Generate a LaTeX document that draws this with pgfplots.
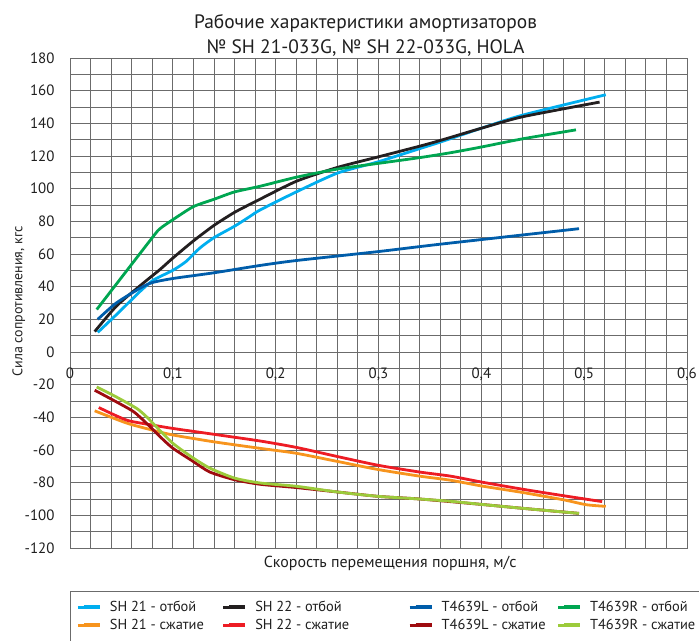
\documentclass[border=0pt]{standalone}
\usepackage{fontspec}
\setmainfont{PT Sans}
\usepackage{pgfplots}
\pgfplotsset{compat=1.18}
\definecolor{csho}{RGB}{0,174,239}
\definecolor{cshto}{RGB}{35,31,32}
\definecolor{clo}{RGB}{0,93,170}
\definecolor{cro}{RGB}{0,166,81}
\definecolor{cshc}{RGB}{247,148,29}
\definecolor{csht}{RGB}{237,28,36}
\definecolor{clc}{RGB}{158,11,15}
\definecolor{crc}{RGB}{156,203,59}
\begin{document}
\begin{tikzpicture}
\begin{axis}[
  at={(0,0)}, anchor=south west,
  scale only axis, width=617bp, height=490bp,
  xmin=0, xmax=0.6, ymin=-120, ymax=180,
  xtick={0,0.1,0.2,0.3,0.4,0.5,0.6},
  xticklabels={0,{0,1},{0,2},{0,3},{0,4},{0,5},{0,6}},
  minor x tick num=4,
  ytick={-120,-100,-80,-60,-40,-20,0,20,40,60,80,100,120,140,160,180},
  yticklabels={-120,-100,-80,-60,-40,-20,0,20,40,60,80,100,120,140,160,180},
  minor y tick num=1,
  grid=both,
  major grid style={draw=black!58, line width=0.9bp},
  minor grid style={draw=black!58, line width=0.9bp},
  axis line style={draw=black!58, line width=0.9bp},
  major tick length=0pt, minor tick length=0pt,
  tick label style={font=\fontsize{15}{18}\selectfont, text=black!88},
  xticklabel style={yshift=184bp},
  yticklabel style={xshift=-12bp},
  xlabel={Скорость перемещения поршня, м/с},
  ylabel={Сила сопротивления, кгс},
  xlabel style={at={(axis description cs:0.519,0)}, anchor=base, yshift=-19bp, font=\fontsize{16}{18}\selectfont, text=black!88},
  ylabel style={at={(axis description cs:-0.083,0.503)}, anchor=center, font=\fontsize{14}{17}\selectfont, text=black!88},
  title={Рабочие характеристики амортизаторов\\№ SH 21-033G, № SH 22-033G, HOLA},
  every axis title/.style={at={(axis description cs:0.479,1)}, anchor=south, align=center, font=\fontsize{19.5}{25}\selectfont, text=black!88, yshift=-2bp},
  legend columns=4,
  legend style={at={(axis description cs:0,0)}, anchor=north west, yshift=-43bp,
    draw=black!58, line width=0.9bp, inner xsep=6bp, inner ysep=9bp,
    font=\fontsize{14.5}{17}\selectfont, text=black!88, row sep=4bp,
    nodes={inner xsep=0pt, inner ysep=1bp},
    /tikz/every odd column/.append style={column sep=8bp}},
  legend cell align=left,
  legend image code/.code={\path (0bp,0bp) -- (22bp,0bp); \draw[#1, line width=4bp] (6bp,0bp) -- (22bp,0bp);},
  every axis plot/.append style={line width=2.8bp, smooth, tension=0.4, no markers},
]
\addplot[csho] coordinates {(0.027,12) (0.047,24) (0.068,37) (0.081,44) (0.100,50) (0.113,55.5) (0.126,63.5) (0.140,70) (0.160,77) (0.175,83) (0.185,87) (0.220,98) (0.260,109.5) (0.300,116.5) (0.340,124.5) (0.360,128.5) (0.400,137) (0.440,145) (0.521,157.5)};
\addlegendentry{\makebox[112bp][l]{SH 21 - отбой}}
\addplot[cshto] coordinates {(0.024,12.5) (0.045,28) (0.068,40.5) (0.0875,50.5) (0.100,57.5) (0.120,68) (0.140,77.5) (0.160,85.5) (0.180,92) (0.220,104.5) (0.260,113) (0.300,119.5) (0.340,126) (0.360,129.5) (0.400,137) (0.440,144) (0.515,153)};
\addlegendentry{\makebox[153bp][l]{SH 22 - отбой}}
\addplot[clo] coordinates {(0.027,20) (0.045,30) (0.068,39) (0.080,42.5) (0.100,45) (0.140,48.5) (0.185,53) (0.220,56) (0.300,61.5) (0.360,66) (0.495,75.5)};
\addlegendentry{\makebox[115bp][l]{T4639L - отбой}}
\addplot[cro] coordinates {(0.026,26) (0.080,70) (0.0875,75.5) (0.100,81) (0.120,89) (0.140,93.5) (0.160,98) (0.185,101.5) (0.220,107) (0.260,112) (0.300,115.5) (0.340,119) (0.370,122) (0.400,125.5) (0.440,130.5) (0.492,136)};
\addlegendentry{\makebox[108bp][l]{T4639R - отбой}}
\addplot[cshc] coordinates {(0.024,-36) (0.055,-43.5) (0.080,-47.8) (0.100,-50.8) (0.140,-55) (0.185,-59) (0.220,-62) (0.260,-67) (0.300,-72) (0.340,-76) (0.370,-78.5) (0.400,-82) (0.440,-86) (0.480,-90.5) (0.502,-93.5) (0.521,-94.5)};
\addlegendentry{\makebox[112bp][l]{SH 21 - сжатие}}
\addplot[csht] coordinates {(0.028,-34) (0.055,-41.7) (0.080,-44.7) (0.100,-46.8) (0.140,-50.4) (0.185,-54.5) (0.220,-58.4) (0.260,-64) (0.300,-69.4) (0.340,-73.5) (0.370,-76) (0.400,-79.6) (0.440,-84) (0.480,-88) (0.5175,-91.6)};
\addlegendentry{\makebox[153bp][l]{SH 22 - сжатие}}
\addplot[clc] coordinates {(0.024,-23.4) (0.045,-30.5) (0.062,-36.6) (0.0745,-43.7) (0.0875,-51.8) (0.100,-58.9) (0.120,-67.1) (0.136,-73.5) (0.160,-78.2) (0.185,-81) (0.220,-83) (0.260,-85.7) (0.300,-88.4) (0.340,-90) (0.400,-93.3) (0.440,-95.7) (0.495,-98.8)};
\addlegendentry{\makebox[115bp][l]{T4639L - сжатие}}
\addplot[crc] coordinates {(0.026,-21.4) (0.045,-27.5) (0.065,-34.6) (0.0745,-39.7) (0.084,-45.8) (0.100,-55.9) (0.120,-65) (0.136,-71.1) (0.160,-77.2) (0.185,-80.2) (0.220,-82.2) (0.260,-85.7) (0.300,-88.4) (0.340,-90) (0.370,-91.4) (0.400,-93.3) (0.440,-95.7) (0.495,-98.8)};
\addlegendentry{\makebox[108bp][l]{T4639R - сжатие}}
\end{axis}
\pgfresetboundingbox
\path[use as bounding box] (-70bp,-93bp) rectangle (629bp,548bp);
\end{tikzpicture}
\end{document}
